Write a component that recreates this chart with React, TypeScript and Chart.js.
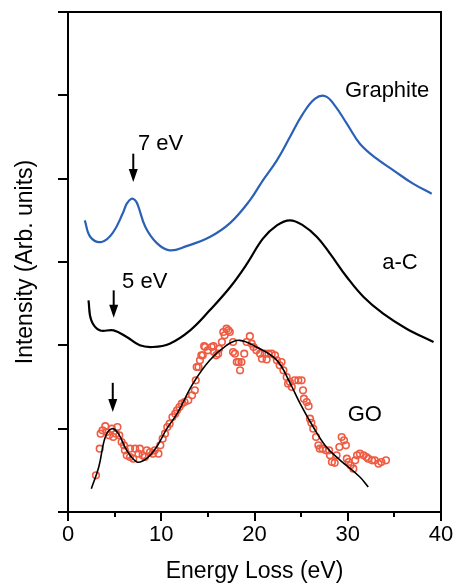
import React, { useEffect, useRef } from 'react';
import { Chart, registerables } from 'chart.js';

Chart.register(...registerables);

const FONT = "'Liberation Sans', Arial, Helvetica, sans-serif";

const xMajorTicks = [0, 10, 20, 30, 40];
const xMinorTicks = [5, 15, 25, 35];

const graphite: [number, number][] = [
  [1.8, 3.5], [2.4, 3.3], [3.6, 3.24], [4.8, 3.35], [5.9, 3.59], [6.3, 3.7], [6.8, 3.76],
  [7.2, 3.74], [7.5, 3.68], [8.3, 3.42], [9.5, 3.23], [10.9, 3.14], [12.7, 3.19], [15.2, 3.3],
  [17.4, 3.47], [19.5, 3.74], [20.9, 3.98], [22.4, 4.22], [23.8, 4.5], [25.2, 4.78], [26.5, 4.96],
  [27.6, 4.99], [28.6, 4.88], [29.9, 4.66], [31.3, 4.42], [33.1, 4.24], [34.9, 4.1], [37.0, 3.94],
  [39.0, 3.82],
];

const aC: [number, number][] = [
  [2.2, 2.54], [2.5, 2.3], [3.4, 2.18], [4.9, 2.18], [6.3, 2.1], [7.7, 2.0], [9.1, 1.98],
  [10.9, 2.02], [13.1, 2.18], [15.2, 2.42], [17.4, 2.7], [19.2, 2.98], [20.9, 3.28], [22.4, 3.44],
  [23.8, 3.5], [25.2, 3.44], [26.7, 3.3], [28.1, 3.1], [29.9, 2.82], [31.7, 2.58], [33.8, 2.38],
  [36.3, 2.2], [39.2, 2.04],
];

const goFit: [number, number][] = [
  [2.5, 0.28], [3.3, 0.54], [4.0, 0.9], [4.7, 1.0], [5.4, 0.94], [6.3, 0.74], [7.4, 0.6],
  [8.4, 0.64], [9.5, 0.78], [10.6, 1.0], [11.7, 1.18], [13.4, 1.54], [15.2, 1.82], [17.0, 2.0],
  [18.4, 2.06], [20.2, 1.98], [22.4, 1.82], [23.8, 1.55], [24.9, 1.3], [26.3, 1.02], [27.7, 0.78],
  [29.2, 0.62], [31.3, 0.42], [32.2, 0.3],
];

const goPoints: [number, number][] = [
  [3.0, 0.44], [3.4, 0.76], [3.5, 0.94], [3.7, 0.98], [4.0, 1.03], [4.15, 0.96], [4.4, 0.92],
  [4.7, 1.0], [4.85, 0.9], [5.15, 0.94], [5.3, 1.02], [5.5, 0.92], [5.75, 0.84], [6.0, 0.8],
  [6.1, 0.74], [6.3, 0.68], [6.65, 0.66], [6.65, 0.76], [7.0, 0.64], [7.2, 0.76], [7.55, 0.7],
  [7.7, 0.76], [8.0, 0.68], [8.25, 0.66], [8.45, 0.74], [8.8, 0.72], [9.1, 0.7], [9.3, 0.74],
  [9.7, 0.7], [9.9, 0.8], [10.15, 0.88], [10.4, 0.94], [10.65, 1.02], [10.9, 1.06], [11.2, 1.14],
  [11.5, 1.18], [11.7, 1.22], [11.95, 1.26], [12.2, 1.3], [12.5, 1.32], [12.9, 1.34], [13.3, 1.4],
  [13.6, 1.46], [13.7, 1.58], [13.8, 1.74], [14.0, 1.74], [14.15, 1.82], [14.3, 1.88], [14.45, 1.88],
  [14.6, 1.99], [14.7, 1.98], [15.0, 1.94], [15.4, 1.98], [15.6, 1.99], [15.65, 1.92], [15.9, 1.88],
  [16.1, 1.9], [16.2, 1.96], [16.5, 2.04], [16.65, 2.16], [16.8, 2.12], [17.0, 2.2], [17.2, 2.18],
  [17.35, 2.16], [17.7, 2.04], [17.7, 1.92], [17.9, 1.9], [18.1, 1.8], [18.3, 1.8], [18.45, 1.7],
  [18.6, 1.8], [18.9, 1.9], [19.15, 2.04], [19.5, 2.11], [19.7, 2.02], [19.9, 1.98], [20.2, 1.94],
  [20.6, 1.9], [20.8, 1.84], [21.1, 1.9], [21.3, 1.83], [21.5, 1.9], [21.85, 1.9], [22.2, 1.88],
  [22.4, 1.82], [22.7, 1.76], [22.9, 1.8], [23.1, 1.7], [23.45, 1.62], [23.6, 1.54], [23.8, 1.56],
  [24.0, 1.5], [24.3, 1.58], [24.7, 1.58], [25.05, 1.58], [25.2, 1.46], [25.3, 1.36], [25.6, 1.32],
  [25.8, 1.27], [25.95, 1.12], [26.1, 1.07], [26.3, 1.0], [26.6, 0.9], [26.85, 0.8], [27.0, 0.76],
  [27.3, 0.76], [27.65, 0.74], [28.0, 0.74], [28.1, 0.68], [28.3, 0.6], [28.6, 0.59], [28.8, 0.68],
  [29.1, 0.78], [29.35, 0.9], [29.6, 0.86], [29.8, 0.8], [29.9, 0.64], [30.1, 0.6], [30.3, 0.56],
  [30.6, 0.52], [30.8, 0.62], [31.0, 0.68], [31.3, 0.7], [31.7, 0.68], [32.0, 0.66], [32.2, 0.64],
  [32.6, 0.62], [32.9, 0.62], [33.3, 0.58], [33.6, 0.6], [34.1, 0.62],
];

const textLabels = [
  { text: 'Graphite', x: 29.7, y: 4.98 },
  { text: '7 eV', x: 7.5, y: 4.34 },
  { text: '5 eV', x: 5.8, y: 2.69 },
  { text: 'a-C', x: 33.7, y: 2.92 },
  { text: 'GO', x: 30.0, y: 1.09 },
];

const arrowMarks = [
  { x: 7.0, from: 4.3, to: 3.96 },
  { x: 4.9, from: 2.66, to: 2.33 },
  { x: 4.8, from: 1.55, to: 1.2 },
];

const toXY = (arr: [number, number][]) => arr.map(([x, y]) => ({ x, y }));

const decorPlugin = {
  id: 'decor',
  afterDraw(chart: any) {
    const { ctx, chartArea } = chart;
    const xs = chart.scales.x;
    const ys = chart.scales.y;
    ctx.save();
    ctx.strokeStyle = '#000';
    ctx.lineWidth = 2;
    ctx.beginPath();
    ctx.moveTo(chartArea.left, chartArea.top);
    ctx.lineTo(chartArea.right, chartArea.top);
    ctx.lineTo(chartArea.right, chartArea.bottom);
    ctx.stroke();
    xMinorTicks.forEach((v) => {
      const px = Math.round(xs.getPixelForValue(v));
      ctx.beginPath();
      ctx.moveTo(px, chartArea.bottom);
      ctx.lineTo(px, chartArea.bottom + 5);
      ctx.stroke();
    });
    ctx.fillStyle = '#000';
    arrowMarks.forEach((a) => {
      const px = xs.getPixelForValue(a.x);
      const y1 = ys.getPixelForValue(a.from);
      const y2 = ys.getPixelForValue(a.to);
      ctx.lineWidth = 2;
      ctx.beginPath();
      ctx.moveTo(px, y1);
      ctx.lineTo(px, y2 - 10);
      ctx.stroke();
      ctx.beginPath();
      ctx.moveTo(px - 4.5, y2 - 13);
      ctx.lineTo(px + 4.5, y2 - 13);
      ctx.lineTo(px, y2);
      ctx.closePath();
      ctx.fill();
    });
    ctx.font = `22px ${FONT}`;
    ctx.textAlign = 'left';
    ctx.textBaseline = 'alphabetic';
    textLabels.forEach((t) => {
      ctx.fillText(t.text, xs.getPixelForValue(t.x), ys.getPixelForValue(t.y));
    });
    ctx.restore();
  },
};

export default function App() {
  const canvasRef = useRef<HTMLCanvasElement | null>(null);

  useEffect(() => {
    if (!canvasRef.current) return;
    const chart = new Chart(canvasRef.current, {
      type: 'line',
      data: {
        datasets: [
          {
            type: 'line',
            data: toXY(goFit),
            borderColor: '#000',
            borderWidth: 1.6,
            pointRadius: 0,
            tension: 0.4,
            fill: false,
          },
          {
            type: 'scatter',
            data: toXY(goPoints),
            borderColor: '#ef5b42',
            backgroundColor: 'rgba(255,255,255,0)',
            borderWidth: 1.6,
            pointRadius: 3.3,
            showLine: false,
          },
          {
            type: 'line',
            data: toXY(aC),
            borderColor: '#000',
            borderWidth: 2.2,
            pointRadius: 0,
            tension: 0.4,
            fill: false,
          },
          {
            type: 'line',
            data: toXY(graphite),
            borderColor: '#2a61b7',
            borderWidth: 2.2,
            pointRadius: 0,
            tension: 0.4,
            fill: false,
          },
        ],
      } as any,
      options: {
        responsive: false,
        animation: false,
        layout: { padding: { left: 0, right: 14, top: 12, bottom: 0 } },
        plugins: { legend: { display: false }, tooltip: { enabled: false } },
        scales: {
          x: {
            type: 'linear',
            min: 0,
            max: 40,
            ticks: {
              stepSize: 10,
              color: '#000',
              font: { family: FONT, size: 22 },
              padding: 1,
              maxRotation: 0,
            },
            grid: { drawOnChartArea: false, drawTicks: true, tickLength: 9, color: '#000', lineWidth: 2 },
            border: { display: true, color: '#000', width: 2 },
            title: {
              display: true,
              text: 'Energy Loss (eV)',
              color: '#000',
              font: { family: FONT, size: 23 },
              padding: { top: 0, bottom: 1 },
            },
            afterFit: (s: any) => { s.height = 74; },
          },
          y: {
            type: 'linear',
            min: 0,
            max: 6,
            ticks: { stepSize: 1, display: false },
            grid: { drawOnChartArea: false, drawTicks: true, tickLength: 10, color: '#000', lineWidth: 2 },
            border: { display: true, color: '#000', width: 2 },
            title: {
              display: true,
              text: 'Intensity (Arb. units)',
              color: '#000',
              font: { family: FONT, size: 23 },
              padding: { top: 12, bottom: 0 },
            },
            afterFit: (s: any) => { s.width = 68; },
          },
        },
      } as any,
      plugins: [decorPlugin],
    });
    return () => chart.destroy();
  }, []);

  return (
    <div style={{ position: 'absolute', left: 0, top: 0, width: 455, height: 586, background: '#fff' }}>
      <canvas ref={canvasRef} width={455} height={586} style={{ display: 'block' }} />
    </div>
  );
}
